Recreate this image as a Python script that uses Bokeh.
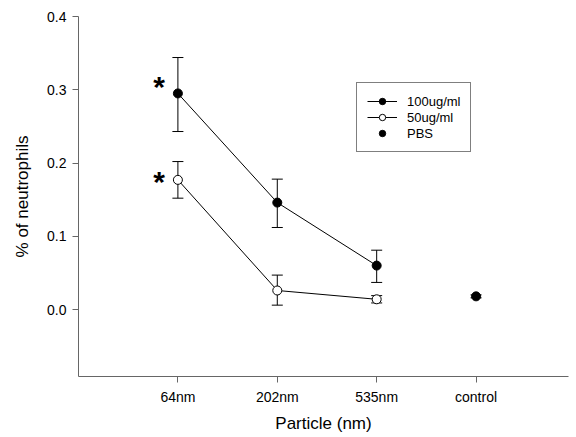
from bokeh.plotting import figure
from bokeh.models import (ColumnDataSource, Whisker, TeeHead, FixedTicker, Legend, LegendItem,
                          Range1d, NumeralTickFormatter)
from bokeh.core.properties import value
from bokeh.embed import file_html
from bokeh.resources import INLINE

# ---- data ----
categories = ["64nm", "202nm", "535nm", "control"]
particles = ["64nm", "202nm", "535nm"]
high_mean = [0.295, 0.146, 0.060]      # 100ug/ml
high_upper = [0.344, 0.178, 0.081]
high_lower = [0.243, 0.112, 0.037]
low_mean = [0.177, 0.026, 0.014]       # 50ug/ml
low_upper = [0.202, 0.047, 0.019]
low_lower = [0.152, 0.006, 0.009]
pbs_mean = [0.018]
pbs_upper = [0.020]
pbs_lower = [0.016]
y_ticks = [0.0, 0.1, 0.2, 0.3, 0.4]
# significance marks (annotations), next to 64nm points
star_y = [0.305, 0.175]

FONT = "Liberation Sans"

x_all = list(range(1, len(categories) + 1))
x_part = x_all[:len(particles)]
x_ctrl = [x_all[categories.index("control")]]

p = figure(width=570, height=437, output_backend="svg", toolbar_location=None,
           x_range=Range1d(0, 4.93), y_range=Range1d(-0.0914, 0.4),
           min_border_left=78, min_border_right=2, min_border_top=16, min_border_bottom=61)
p.outline_line_color = None
p.xgrid.visible = False
p.ygrid.visible = False

for ax in (p.xaxis[0], p.yaxis[0]):
    ax.axis_line_color = "#666666"
    ax.major_tick_line_color = "#666666"
    ax.major_tick_out = 6
    ax.major_tick_in = 0
    ax.minor_tick_line_color = None
    ax.major_label_text_font = FONT
    ax.major_label_text_font_size = "14px"
    ax.major_label_text_color = "black"
    ax.axis_label_text_font = FONT
    ax.axis_label_text_font_size = "17px"
    ax.axis_label_text_font_style = "normal"
    ax.axis_label_text_color = "black"

p.xaxis.ticker = FixedTicker(ticks=x_all)
p.xaxis.major_label_overrides = {x: c for x, c in zip(x_all, categories)}
p.xaxis.axis_label = "Particle (nm)"
p.xaxis.major_label_standoff = 6
p.xaxis.axis_label_standoff = 6

p.yaxis.ticker = FixedTicker(ticks=y_ticks)
p.yaxis.formatter = NumeralTickFormatter(format="0.0")
p.yaxis.axis_label = "% of neutrophils"
p.yaxis.major_label_standoff = 6
p.yaxis.axis_label_standoff = 12

src_h = ColumnDataSource(dict(x=x_part, y=high_mean, upper=high_upper, lower=high_lower))
src_l = ColumnDataSource(dict(x=x_part, y=low_mean, upper=low_upper, lower=low_lower))
src_p = ColumnDataSource(dict(x=x_ctrl, y=pbs_mean, upper=pbs_upper, lower=pbs_lower))

for src in (src_h, src_l, src_p):
    w = Whisker(base="x", upper="upper", lower="lower", source=src, dimension="height",
                line_color="black", line_width=1,
                upper_head=TeeHead(size=11, line_color="black", line_width=1),
                lower_head=TeeHead(size=11, line_color="black", line_width=1))
    p.add_layout(w)

lh = p.line("x", "y", source=src_h, line_color="black", line_width=1)
sh = p.scatter("x", "y", source=src_h, size=9, marker="circle", fill_color="black", line_color="black")
ll = p.line("x", "y", source=src_l, line_color="black", line_width=1)
sl = p.scatter("x", "y", source=src_l, size=9, marker="circle", fill_color="white", line_color="black")
sp = p.scatter("x", "y", source=src_p, size=9, marker="circle", fill_color="black", line_color="black")

star_src = ColumnDataSource(dict(x=[x_part[0] - 0.19] * len(star_y), y=star_y, t=["*"] * len(star_y)))
p.text("x", "y", text="t", source=star_src, text_font=value(FONT), text_font_size="30px",
       text_font_style="bold", text_align="center", text_baseline="middle", text_color="black")

legend = Legend(items=[
    LegendItem(label="100ug/ml", renderers=[lh, sh]),
    LegendItem(label="50ug/ml", renderers=[ll, sl]),
    LegendItem(label="PBS", renderers=[sp]),
], location=(278, 224))
legend.border_line_color = "black"
legend.border_line_width = 1
legend.background_fill_alpha = 1
legend.label_text_font = FONT
legend.label_text_font_size = "13px"
legend.label_text_color = "black"
legend.label_height = 16
legend.glyph_height = 16
legend.glyph_width = 30
legend.spacing = 0
legend.padding = 10
legend.margin = 0
legend.label_standoff = 10
p.add_layout(legend, "center")

open("out.html", "w").write(file_html(p, INLINE))
